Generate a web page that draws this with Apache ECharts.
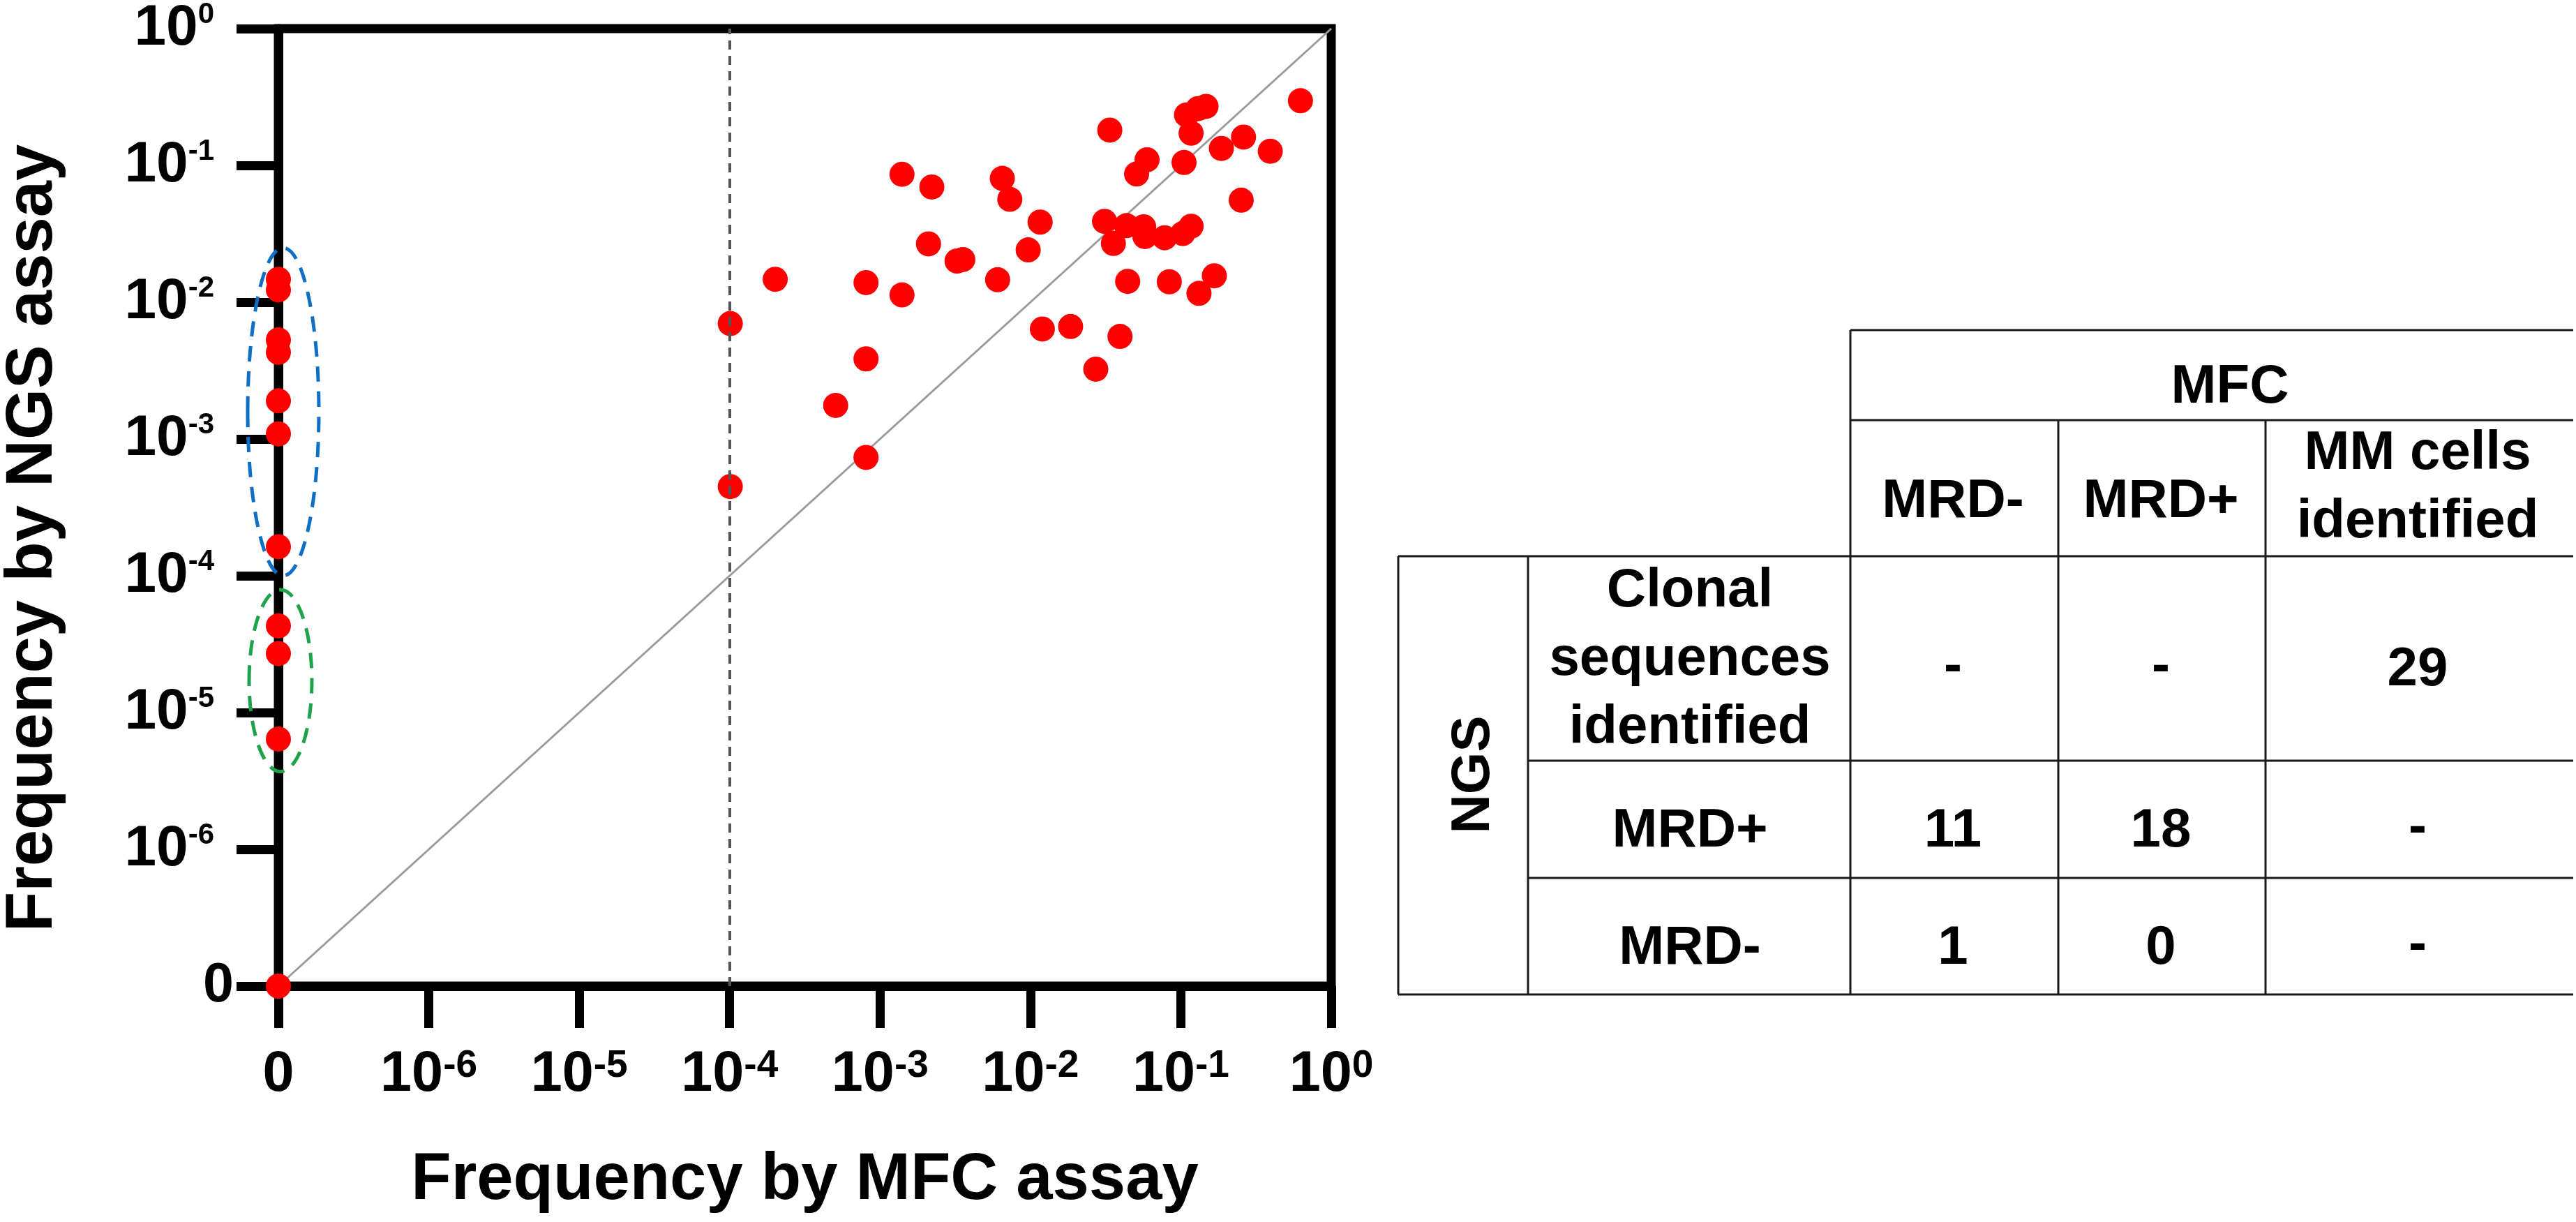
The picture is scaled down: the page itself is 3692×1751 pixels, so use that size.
<!DOCTYPE html>
<html>
<head>
<meta charset="utf-8">
<script src="https://cdn.jsdelivr.net/npm/echarts@6/dist/echarts.min.js"></script>
<style>
  html, body { margin: 0; padding: 0; background: #fff; }
  #main { width: 3692px; height: 1751px; }
</style>
</head>
<body>
<div id="main"></div>
<script>
// tick exponents, null = the "0" position below 10^-6
const tickExponents = [null, -6, -5, -4, -3, -2, -1, 0];

// samples with MFC = 0 (drawn on the y axis), NGS frequency
const ngsOnlyFreq = [0.0147, 0.0123, 0.0053, 0.0043, 0.0019, 0.00109, 0.000163, 0.000043, 0.000027, 0.0000064, 0];

// samples positive by MFC
const mfcFreq = [
  0.00140, 0.00221, 0.00650, 0.00729, 0.0116, 0.00210, 0.00325, 0.00355, 0.00966, 0.000201,
  0.000807, 0.00140, 0.00605, 0.000101, 0.0120, 0.000807, 0.000507, 0.000807, 0.000101, 0.624,
  0.109, 0.130, 0.147, 0.117, 0.0337, 0.261, 0.186, 0.393, 0.0596, 0.0508,
  0.105, 0.252, 0.0311, 0.0435, 0.0566, 0.0577, 0.0356, 0.0780, 0.103, 0.117,
  0.0443, 0.0838, 0.167, 0.132, 0.0185, 0.0394, 0.0272
];
const ngsFreq = [
  0.0861, 0.0695, 0.0804, 0.0565, 0.0385, 0.0267, 0.0200, 0.0205, 0.0241, 0.0147,
  0.0139, 0.0113, 0.0146, 0.00698, 0.00637, 0.00385, 0.00176, 0.000733, 0.000449, 0.297,
  0.234, 0.260, 0.270, 0.172, 0.181, 0.161, 0.133, 0.127, 0.110, 0.0865,
  0.105, 0.0557, 0.0390, 0.0363, 0.0356, 0.0302, 0.0269, 0.0296, 0.0318, 0.0359,
  0.0142, 0.0141, 0.0156, 0.0116, 0.00664, 0.00562, 0.00324
];

const mrdCutoff = 1e-4;

// contingency table
const mfcColumns = ['MRD-', 'MRD+', 'MM cells\nidentified'];
const ngsRows = ['Clonal\nsequences\nidentified', 'MRD+', 'MRD-'];
const tableCells = [
  ['-', '-', '29'],
  ['11', '18', '-'],
  ['1', '0', '-']
];

// 0 sits one decade below 10^-6
function toAxis(v) {
  return v > 0 ? Math.log10(v) + 7 : 0;
}

var dom = document.getElementById('main');
var myChart = echarts.init(dom, null, { renderer: 'canvas' });

const sans = "'Liberation Sans', Arial, sans-serif";

function xTickLabel(value) {
  const e = tickExponents[Math.round(value)];
  if (e === null || e === undefined) return '{z|0}';
  return '{b|10}{s|' + e + '}';
}
// the y "0" sits closer to the axis than the powers of ten
function yTickLabel(value) {
  const e = tickExponents[Math.round(value)];
  if (e === null || e === undefined) return '{z|0}';
  return '{b|10}{s|' + e + '}{p| }';
}

const scatterData = ngsOnlyFreq.map(v => [0, toAxis(v)])
  .concat(mfcFreq.map((v, i) => [toAxis(v), toAxis(ngsFreq[i])]));

var option = {
  backgroundColor: '#fff',
  animation: false,
  grid: {
    left: 395, top: 38, right: 1784, bottom: 338,
    show: true, borderColor: '#000', borderWidth: 13, backgroundColor: 'transparent'
  },
  xAxis: {
    type: 'value', min: 0, max: 7, interval: 1,
    name: 'Frequency by MFC assay',
    nameLocation: 'middle', nameGap: 232,
    nameTextStyle: { fontSize: 94, fontWeight: 'bold', fontFamily: sans, color: '#000' },
    axisLine: { show: true, lineStyle: { color: '#000', width: 13 } },
    axisTick: { show: true, inside: false, length: 60, lineStyle: { color: '#000', width: 13 } },
    splitLine: { show: false },
    axisLabel: {
      margin: 87, color: '#000', formatter: xTickLabel,
      rich: {
        b: { fontSize: 81, fontWeight: 'bold', fontFamily: sans, lineHeight: 81, verticalAlign: 'bottom' },
        s: { fontSize: 55, fontWeight: 'bold', fontFamily: sans, lineHeight: 55, verticalAlign: 'top' },
        z: { fontSize: 81, fontWeight: 'bold', fontFamily: sans, lineHeight: 81 }
      }
    }
  },
  yAxis: {
    type: 'value', min: 0, max: 7, interval: 1,
    name: 'Frequency by NGS assay',
    nameLocation: 'middle', nameGap: 304, nameRotate: 90,
    nameTextStyle: { fontSize: 94, fontWeight: 'bold', fontFamily: sans, color: '#000', padding: [0, 88, 0, 0] },
    axisLine: { show: true, lineStyle: { color: '#000', width: 13 } },
    axisTick: { show: true, inside: false, length: 60, lineStyle: { color: '#000', width: 13 } },
    splitLine: { show: false },
    axisLabel: {
      margin: 64, color: '#000', formatter: yTickLabel,
      rich: {
        b: { fontSize: 82, fontWeight: 'bold', fontFamily: sans, lineHeight: 82, verticalAlign: 'bottom' },
        s: { fontSize: 42, fontWeight: 'bold', fontFamily: sans, lineHeight: 42, verticalAlign: 'top' },
        p: { fontSize: 20, width: 28, lineHeight: 20 },
        z: { fontSize: 79, fontWeight: 'bold', fontFamily: sans, lineHeight: 82 }
      }
    }
  },
  series: [
    {
      name: 'identity',
      type: 'line',
      data: [[0, 0], [7, 7]],
      symbol: 'none',
      silent: true,
      z: 1,
      lineStyle: { color: '#9a9a9a', width: 3 },
      markLine: {
        silent: true,
        symbol: 'none',
        label: { show: false },
        lineStyle: { color: '#555', width: 4, type: [13, 9] },
        data: [{ xAxis: toAxis(mrdCutoff) }]
      }
    },
    {
      name: 'samples',
      type: 'scatter',
      data: scatterData,
      symbol: 'circle',
      symbolSize: 36,
      z: 3,
      itemStyle: { color: '#ff0000', opacity: 1 }
    }
  ]
};

myChart.setOption(option);

// dashed rings around the samples seen only by NGS
const rings = [
  { top: 0.025, bottom: 1e-4, dx: 7, rx: 51, color: '#0f6fc6' },
  { top: 7.9e-5, bottom: 3.7e-6, dx: 3, rx: 45, color: '#1fa34a' }
];

const graphics = [];
rings.forEach(function (r) {
  const p1 = myChart.convertToPixel({ gridIndex: 0 }, [0, toAxis(r.top)]);
  const p2 = myChart.convertToPixel({ gridIndex: 0 }, [0, toAxis(r.bottom)]);
  graphics.push({
    type: 'ellipse', z: 100, silent: true,
    shape: { cx: p1[0] + r.dx, cy: (p1[1] + p2[1]) / 2, rx: r.rx, ry: Math.abs(p2[1] - p1[1]) / 2 },
    style: { fill: 'none', stroke: r.color, lineWidth: 5, lineDash: [22, 14] }
  });
});

// table layout
const colX = [2004, 2190, 2652, 2950, 3247, 3688];
const rowY = [473, 602, 797, 1090, 1258, 1425];
const tStroke = { stroke: '#1a1a1a', lineWidth: 3 };
function hline(y, x1, x2) {
  graphics.push({ type: 'line', silent: true, shape: { x1: x1, y1: y, x2: x2, y2: y }, style: tStroke });
}
function vline(x, y1, y2) {
  graphics.push({ type: 'line', silent: true, shape: { x1: x, y1: y1, x2: x, y2: y2 }, style: tStroke });
}
hline(rowY[0], colX[2], colX[5]);
hline(rowY[1], colX[2], colX[5]);
hline(rowY[2], colX[0], colX[5]);
hline(rowY[3], colX[1], colX[5]);
hline(rowY[4], colX[1], colX[5]);
hline(rowY[5], colX[0], colX[5]);
vline(colX[0], rowY[2], rowY[5]);
vline(colX[1], rowY[2], rowY[5]);
vline(colX[2], rowY[0], rowY[5]);
vline(colX[3], rowY[1], rowY[5]);
vline(colX[4], rowY[1], rowY[5]);

function cellText(text, x, y, rotation) {
  graphics.push({
    type: 'text', silent: true, x: x, y: y, rotation: rotation || 0,
    style: {
      text: text, fill: '#000', fontSize: 78, fontWeight: 'bold', fontFamily: sans,
      align: 'center', verticalAlign: 'middle', lineHeight: 98
    }
  });
}
const colCenters = [2799, 3097, 3465];
const rowCenters = [960, 1191, 1359];
cellText('MFC', 3196, 555);
cellText('NGS', 2112, 1110, Math.PI / 2);
mfcColumns.forEach((c, i) => cellText(c, colCenters[i], 719 - (c.indexOf('\n') >= 0 ? 20 : 0)));
ngsRows.forEach((r, i) => cellText(r, 2422, i === 0 ? 945 : rowCenters[i]));
tableCells.forEach((row, i) => row.forEach((v, j) => {
  cellText(v, colCenters[j], rowCenters[i] - (v === '-' ? 4 : 0));
}));

myChart.setOption({ graphic: { elements: graphics } });

window.addEventListener('resize', myChart.resize);
</script>
</body>
</html>
